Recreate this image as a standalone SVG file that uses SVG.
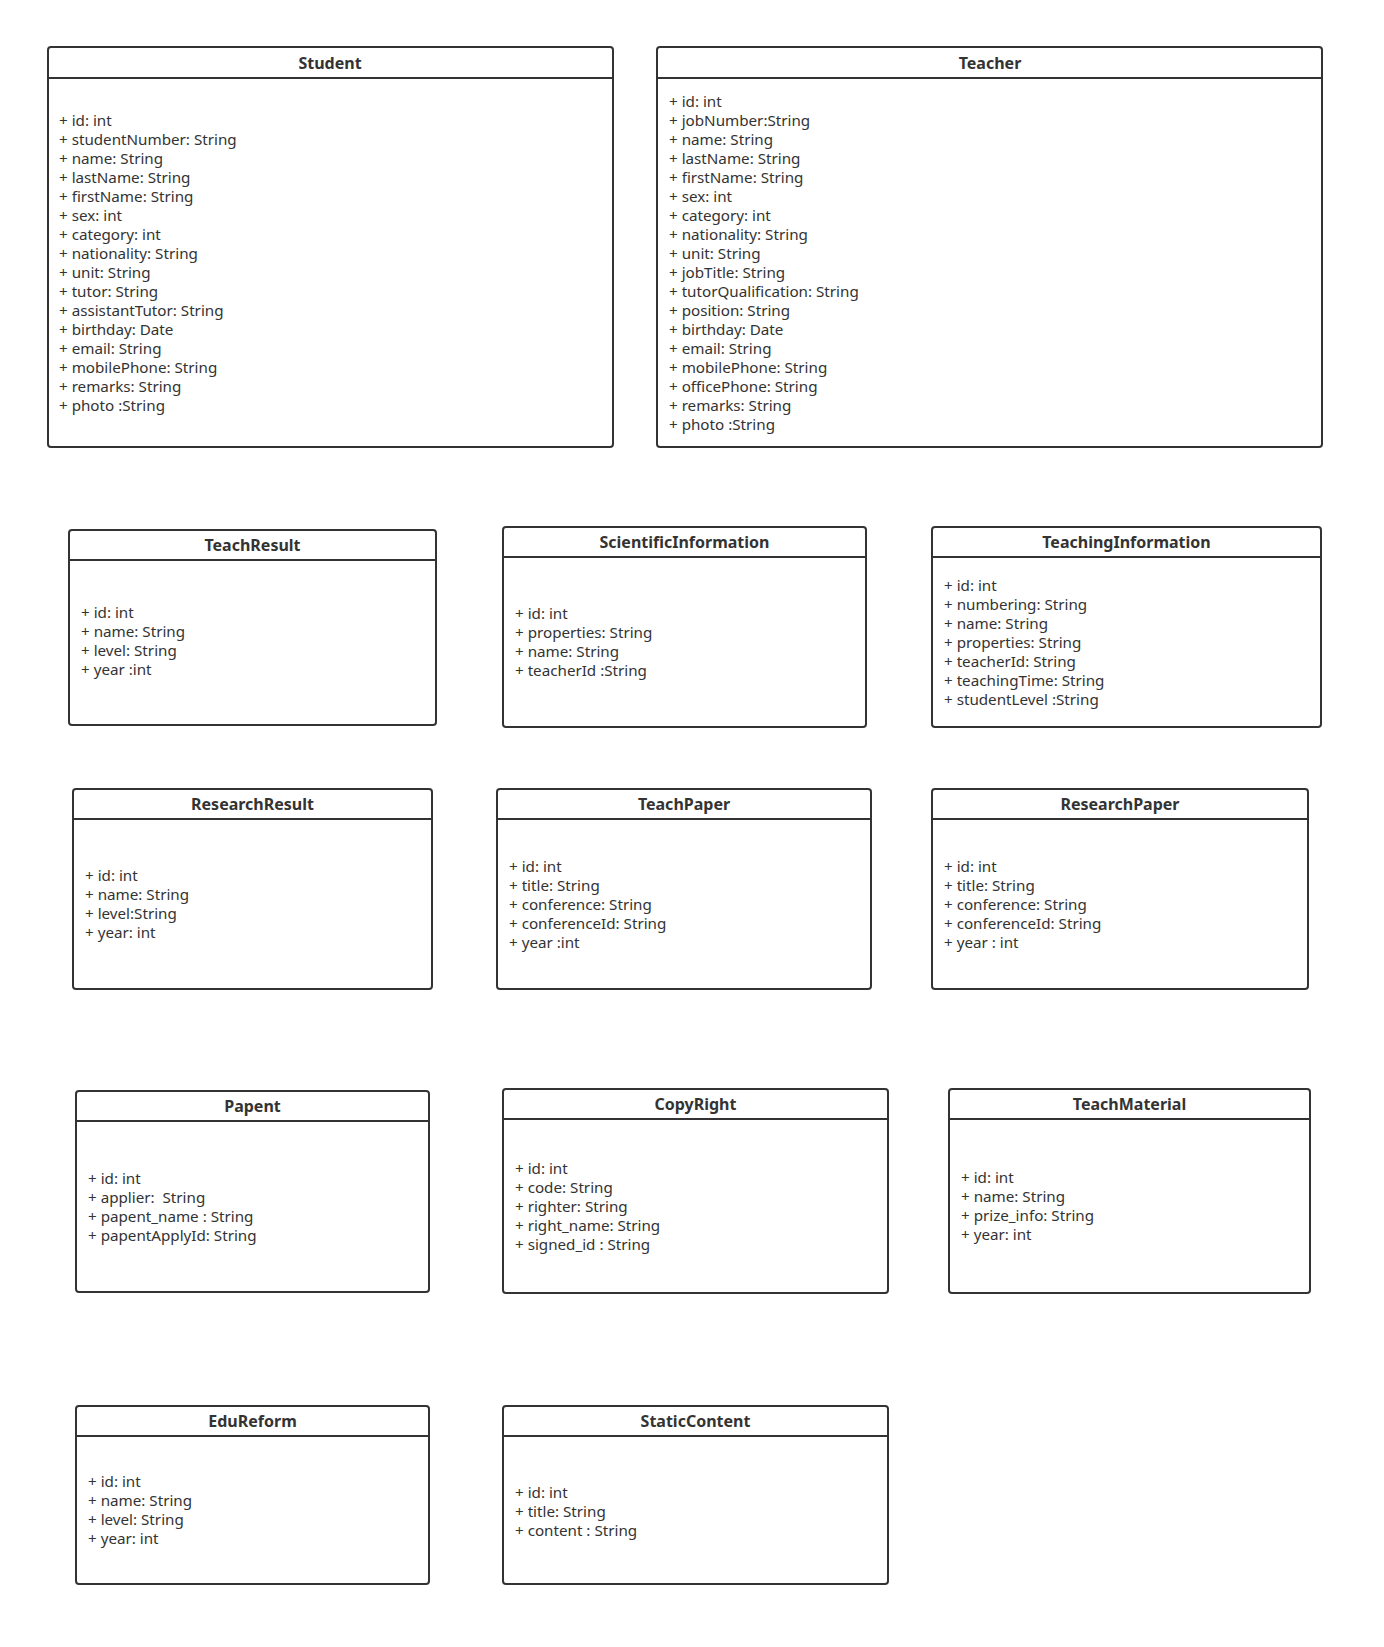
<svg xmlns="http://www.w3.org/2000/svg" width="1384" height="1647" viewBox="0 0 1384 1647">
<style>
.box{fill:#fff;stroke:#333;stroke-width:2}
.sep{stroke:#333;stroke-width:2}
.t{font-family:"Noto Sans","Open Sans",sans-serif;font-size:16px;font-weight:bold;fill:#333;text-anchor:middle}
.a{font-family:"Noto Sans","Open Sans",sans-serif;font-size:15.2px;fill:#333}
</style>
<rect width="1384" height="1647" fill="#fff"/>
<g id="Student">
<rect class="box" x="48" y="47" width="565" height="400" rx="3"/>
<line class="sep" x1="48" y1="78" x2="613" y2="78"/>
<text class="t" x="330" y="69">Student</text>
<text class="a" x="59" y="126"><tspan x="59">+ id: int</tspan><tspan x="59" dy="19">+ studentNumber: String</tspan><tspan x="59" dy="19">+ name: String</tspan><tspan x="59" dy="19">+ lastName: String</tspan><tspan x="59" dy="19">+ firstName: String</tspan><tspan x="59" dy="19">+ sex: int</tspan><tspan x="59" dy="19">+ category: int</tspan><tspan x="59" dy="19">+ nationality: String</tspan><tspan x="59" dy="19">+ unit: String</tspan><tspan x="59" dy="19">+ tutor: String</tspan><tspan x="59" dy="19">+ assistantTutor: String</tspan><tspan x="59" dy="19">+ birthday: Date</tspan><tspan x="59" dy="19">+ email: String</tspan><tspan x="59" dy="19">+ mobilePhone: String</tspan><tspan x="59" dy="19">+ remarks: String</tspan><tspan x="59" dy="19">+ photo :String</tspan></text>
</g>
<g id="Teacher">
<rect class="box" x="657" y="47" width="665" height="400" rx="3"/>
<line class="sep" x1="657" y1="78" x2="1322" y2="78"/>
<text class="t" x="990" y="69">Teacher</text>
<text class="a" x="669" y="107"><tspan x="669">+ id: int</tspan><tspan x="669" dy="19">+ jobNumber:String</tspan><tspan x="669" dy="19">+ name: String</tspan><tspan x="669" dy="19">+ lastName: String</tspan><tspan x="669" dy="19">+ firstName: String</tspan><tspan x="669" dy="19">+ sex: int</tspan><tspan x="669" dy="19">+ category: int</tspan><tspan x="669" dy="19">+ nationality: String</tspan><tspan x="669" dy="19">+ unit: String</tspan><tspan x="669" dy="19">+ jobTitle: String</tspan><tspan x="669" dy="19">+ tutorQualification: String</tspan><tspan x="669" dy="19">+ position: String</tspan><tspan x="669" dy="19">+ birthday: Date</tspan><tspan x="669" dy="19">+ email: String</tspan><tspan x="669" dy="19">+ mobilePhone: String</tspan><tspan x="669" dy="19">+ officePhone: String</tspan><tspan x="669" dy="19">+ remarks: String</tspan><tspan x="669" dy="19">+ photo :String</tspan></text>
</g>
<g id="TeachResult">
<rect class="box" x="69" y="530" width="367" height="195" rx="3"/>
<line class="sep" x1="69" y1="560" x2="436" y2="560"/>
<text class="t" x="252.5" y="551">TeachResult</text>
<text class="a" x="81" y="618"><tspan x="81">+ id: int</tspan><tspan x="81" dy="19">+ name: String</tspan><tspan x="81" dy="19">+ level: String</tspan><tspan x="81" dy="19">+ year :int</tspan></text>
</g>
<g id="ScientificInformation">
<rect class="box" x="503" y="527" width="363" height="200" rx="3"/>
<line class="sep" x1="503" y1="557" x2="866" y2="557"/>
<text class="t" x="684.5" y="548">ScientificInformation</text>
<text class="a" x="515" y="619"><tspan x="515">+ id: int</tspan><tspan x="515" dy="19">+ properties: String</tspan><tspan x="515" dy="19">+ name: String</tspan><tspan x="515" dy="19">+ teacherId :String</tspan></text>
</g>
<g id="TeachingInformation">
<rect class="box" x="932" y="527" width="389" height="200" rx="3"/>
<line class="sep" x1="932" y1="557" x2="1321" y2="557"/>
<text class="t" x="1126.5" y="548">TeachingInformation</text>
<text class="a" x="944" y="591"><tspan x="944">+ id: int</tspan><tspan x="944" dy="19">+ numbering: String</tspan><tspan x="944" dy="19">+ name: String</tspan><tspan x="944" dy="19">+ properties: String</tspan><tspan x="944" dy="19">+ teacherId: String</tspan><tspan x="944" dy="19">+ teachingTime: String</tspan><tspan x="944" dy="19">+ studentLevel :String</tspan></text>
</g>
<g id="ResearchResult">
<rect class="box" x="73" y="789" width="359" height="200" rx="3"/>
<line class="sep" x1="73" y1="819" x2="432" y2="819"/>
<text class="t" x="252.5" y="810">ResearchResult</text>
<text class="a" x="85" y="881"><tspan x="85">+ id: int</tspan><tspan x="85" dy="19">+ name: String</tspan><tspan x="85" dy="19">+ level:String</tspan><tspan x="85" dy="19">+ year: int</tspan></text>
</g>
<g id="TeachPaper">
<rect class="box" x="497" y="789" width="374" height="200" rx="3"/>
<line class="sep" x1="497" y1="819" x2="871" y2="819"/>
<text class="t" x="684" y="810">TeachPaper</text>
<text class="a" x="509" y="872"><tspan x="509">+ id: int</tspan><tspan x="509" dy="19">+ title: String</tspan><tspan x="509" dy="19">+ conference: String</tspan><tspan x="509" dy="19">+ conferenceId: String</tspan><tspan x="509" dy="19">+ year :int</tspan></text>
</g>
<g id="ResearchPaper">
<rect class="box" x="932" y="789" width="376" height="200" rx="3"/>
<line class="sep" x1="932" y1="819" x2="1308" y2="819"/>
<text class="t" x="1120" y="810">ResearchPaper</text>
<text class="a" x="944" y="872"><tspan x="944">+ id: int</tspan><tspan x="944" dy="19">+ title: String</tspan><tspan x="944" dy="19">+ conference: String</tspan><tspan x="944" dy="19">+ conferenceId: String</tspan><tspan x="944" dy="19">+ year : int</tspan></text>
</g>
<g id="Papent">
<rect class="box" x="76" y="1091" width="353" height="201" rx="3"/>
<line class="sep" x1="76" y1="1121" x2="429" y2="1121"/>
<text class="t" x="252.5" y="1112">Papent</text>
<text class="a" x="88" y="1184" xml:space="preserve"><tspan x="88">+ id: int</tspan><tspan x="88" dy="19">+ applier:  String</tspan><tspan x="88" dy="19">+ papent_name : String</tspan><tspan x="88" dy="19">+ papentApplyId: String</tspan></text>
</g>
<g id="CopyRight">
<rect class="box" x="503" y="1089" width="385" height="204" rx="3"/>
<line class="sep" x1="503" y1="1119" x2="888" y2="1119"/>
<text class="t" x="695.5" y="1110">CopyRight</text>
<text class="a" x="515" y="1174"><tspan x="515">+ id: int</tspan><tspan x="515" dy="19">+ code: String</tspan><tspan x="515" dy="19">+ righter: String</tspan><tspan x="515" dy="19">+ right_name: String</tspan><tspan x="515" dy="19">+ signed_id : String</tspan></text>
</g>
<g id="TeachMaterial">
<rect class="box" x="949" y="1089" width="361" height="204" rx="3"/>
<line class="sep" x1="949" y1="1119" x2="1310" y2="1119"/>
<text class="t" x="1129.5" y="1110">TeachMaterial</text>
<text class="a" x="961" y="1183"><tspan x="961">+ id: int</tspan><tspan x="961" dy="19">+ name: String</tspan><tspan x="961" dy="19">+ prize_info: String</tspan><tspan x="961" dy="19">+ year: int</tspan></text>
</g>
<g id="EduReform">
<rect class="box" x="76" y="1406" width="353" height="178" rx="3"/>
<line class="sep" x1="76" y1="1436" x2="429" y2="1436"/>
<text class="t" x="252.5" y="1427">EduReform</text>
<text class="a" x="88" y="1487"><tspan x="88">+ id: int</tspan><tspan x="88" dy="19">+ name: String</tspan><tspan x="88" dy="19">+ level: String</tspan><tspan x="88" dy="19">+ year: int</tspan></text>
</g>
<g id="StaticContent">
<rect class="box" x="503" y="1406" width="385" height="178" rx="3"/>
<line class="sep" x1="503" y1="1436" x2="888" y2="1436"/>
<text class="t" x="695.5" y="1427">StaticContent</text>
<text class="a" x="515" y="1498"><tspan x="515">+ id: int</tspan><tspan x="515" dy="19">+ title: String</tspan><tspan x="515" dy="19">+ content : String</tspan></text>
</g>
<g id="connectors"/>
</svg>
